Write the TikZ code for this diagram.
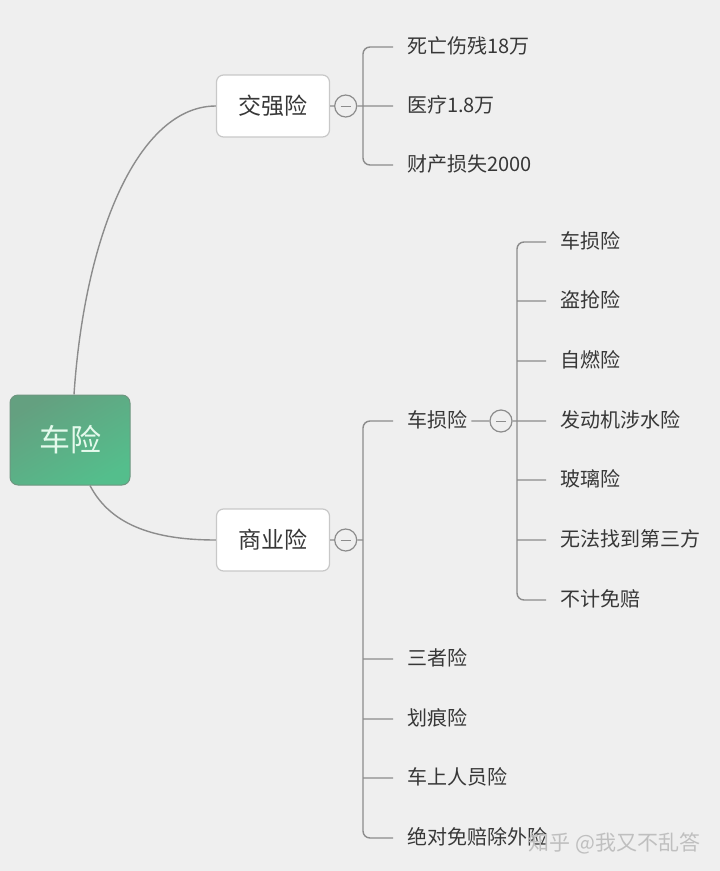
\documentclass[tikz,border=0pt]{standalone}
\usepackage{fontspec}
\setmainfont{Noto Sans CJK SC}
\usetikzlibrary{positioning}

\definecolor{bgGray}{RGB}{239,239,239}
\definecolor{lineGray}{RGB}{140,140,140}
\definecolor{boxGray}{RGB}{200,200,200}
\definecolor{textGray}{RGB}{55,55,55}
\definecolor{rootGreen}{RGB}{84,190,140}
\definecolor{rootTop}{RGB}{100,160,128}
\definecolor{rootEdge}{RGB}{110,150,128}
\definecolor{rootText}{RGB}{228,250,236}

\begin{document}
\begin{tikzpicture}[x=1pt,y=-1pt]
        \tikzset{root/.style= {draw=rootEdge, top color=rootTop, bottom color=rootGreen, shading angle=30,
                      rounded corners=8pt, line width=1pt,
                      minimum width=120pt, minimum height=90pt, text=rootText, font=\fontsize{31}{34}\selectfont},
        topic/.style= {draw=boxGray, fill=white, rounded corners=7pt, line width=1.2pt,
                      minimum width=113pt, minimum height=62pt, text=textGray, font=\fontsize{23}{26}\selectfont},
        leaf/.style= {anchor=west, inner sep=0pt, text height=1.4em, text depth=0.04em,
                      text=textGray, font=\fontsize{20}{22}\selectfont},
        link/.style= {draw=lineGray, line width=1.4pt},
        bracket/.style= {link, rounded corners=7pt},
        fold/.style= {circle, draw=lineGray, fill=bgGray, line width=1.2pt, minimum size=22pt, inner sep=0pt,
                      path picture={\draw[lineGray, line width=1pt]
                        ([xshift=-5pt]path picture bounding box.center) -- ([xshift=5pt]path picture bounding box.center);}},
        }
        \fill[bgGray] (0,0) rectangle (720,871);
        \useasboundingbox (0,0) rectangle (720,871);

        \node [root]  (car) at (70,440) {车险};

        % 交强险
        \node [topic] (jq) at (273,106) {交强险};
        \node [fold, right = 4pt of jq] (jqf) {};
        \coordinate (jqbar) at (363,106);
        \node [leaf] (jq1) at (407,47) {死亡伤残18万};
        \node [leaf] (jq2) at (407,106) {医疗1.8万};
        \node [leaf] (jq3) at (407,165) {财产损失2000};

        % 商业险
        \node [topic] (sy) at (273,540) {商业险};
        \node [fold, right = 4pt of sy] (syf) {};
        \coordinate (sybar) at (363,540);
        \node [leaf] (sy1) at (407,421) {车损险};
        \node [leaf] (sy2) at (407,659) {三者险};
        \node [leaf] (sy3) at (407,719) {划痕险};
        \node [leaf] (sy4) at (407,778) {车上人员险};
        \node [leaf] (sy5) at (407,838) {绝对免赔除外险};

        % 车损险
        \node [fold, right = 22pt of sy1] (csf) {};
        \coordinate (csbar) at (517,421);
        \node [leaf] (cs1) at (560,242) {车损险};
        \node [leaf] (cs2) at (560,301) {盗抢险};
        \node [leaf] (cs3) at (560,361) {自燃险};
        \node [leaf] (cs4) at (560,421) {发动机涉水险};
        \node [leaf] (cs5) at (560,480) {玻璃险};
        \node [leaf] (cs6) at (560,540) {无法找到第三方};
        \node [leaf] (cs7) at (560,600) {不计免赔};

        \path[link]
            ([xshift=4pt]car.north) .. controls (85,230) and (140,106) .. (jq.west)
            ([xshift=20pt]car.south) .. controls (112,528) and (160,540) .. (sy.west)

            (jq) -- (jqf)
            (jqf) -- (jqbar)
            (jqbar |- jq2.west) -- ([xshift=-14pt]jq2.west)

            (sy) -- (syf)
            (syf) -- (sybar)
            (sybar |- sy2.west) -- ([xshift=-14pt]sy2.west)
            (sybar |- sy3.west) -- ([xshift=-14pt]sy3.west)
            (sybar |- sy4.west) -- ([xshift=-14pt]sy4.west)

            ([xshift=4pt]sy1.east) -- (csf)
            (csf) -- (csbar)
            (csbar |- cs2.west) -- ([xshift=-14pt]cs2.west)
            (csbar |- cs3.west) -- ([xshift=-14pt]cs3.west)
            (csbar |- cs4.west) -- ([xshift=-14pt]cs4.west)
            (csbar |- cs5.west) -- ([xshift=-14pt]cs5.west)
            (csbar |- cs6.west) -- ([xshift=-14pt]cs6.west)
                    ;
        \draw[bracket] ([xshift=-14pt]jq1.west) -| (jqbar |- jq3.west) -- ([xshift=-14pt]jq3.west);
        \draw[bracket] ([xshift=-14pt]sy1.west) -| (sybar |- sy5.west) -- ([xshift=-14pt]sy5.west);
        \draw[bracket] ([xshift=-14pt]cs1.west) -| (csbar |- cs7.west) -- ([xshift=-14pt]cs7.west);

        \node [anchor=west, text=black!25, font=\fontsize{21}{24}\selectfont] (mark) at (525,843) {知乎 @我又不乱答};
    \end{tikzpicture}
\end{document}
